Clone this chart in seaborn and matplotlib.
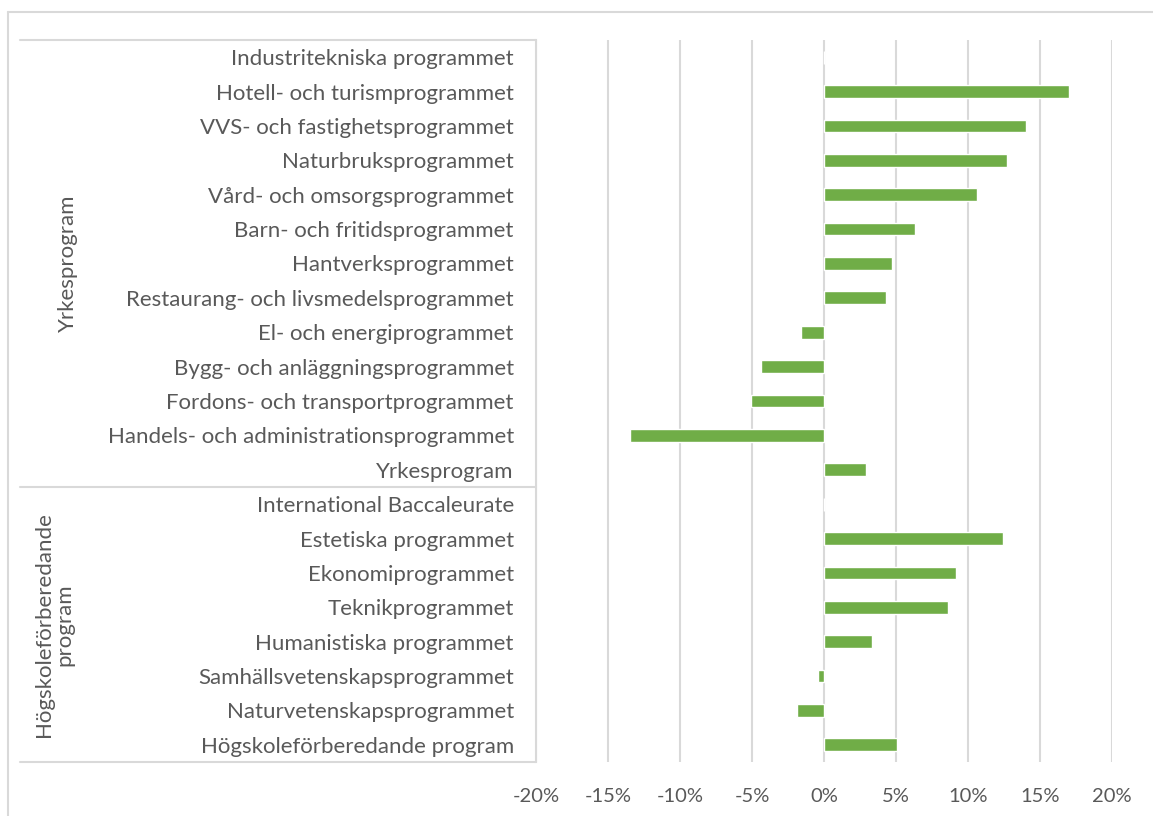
import numpy as np
import pandas as pd
import seaborn as sns
import matplotlib.pyplot as plt
from matplotlib.lines import Line2D
from matplotlib.ticker import FuncFormatter
import matplotlib.transforms as mtransforms

programs = [
    "Industritekniska programmet",
    "Hotell- och turismprogrammet",
    "VVS- och fastighetsprogrammet",
    "Naturbruksprogrammet",
    "Vård- och omsorgsprogrammet",
    "Barn- och fritidsprogrammet",
    "Hantverksprogrammet",
    "Restaurang- och livsmedelsprogrammet",
    "El- och energiprogrammet",
    "Bygg- och anläggningsprogrammet",
    "Fordons- och transportprogrammet",
    "Handels- och administrationsprogrammet",
    "Yrkesprogram",
    "International Baccaleurate",
    "Estetiska programmet",
    "Ekonomiprogrammet",
    "Teknikprogrammet",
    "Humanistiska programmet",
    "Samhällsvetenskapsprogrammet",
    "Naturvetenskapsprogrammet",
    "Högskoleförberedande program",
]
change = [0.0, 0.170, 0.140, 0.127, 0.106, 0.063, 0.047, 0.043, -0.016, -0.044,
          -0.051, -0.135, 0.029, 0.0, 0.124, 0.092, 0.086, 0.033, -0.004, -0.019, 0.051]
groups = ["Yrkesprogram", "Högskoleförberedande\nprogram"]
group_sizes = [13, 8]
xticks = [-0.20, -0.15, -0.10, -0.05, 0.0, 0.05, 0.10, 0.15, 0.20]

df = pd.DataFrame({"program": programs, "change": change})

sns.set_theme(style="white")
plt.rcParams["font.family"] = ["Lato", "DejaVu Sans"]
text_col = "#595959"
line_col = "#D9D9D9"

fig = plt.figure(figsize=(11.53, 8.16), dpi=100)
ax = fig.add_axes([536 / 1153, 1 - 762 / 816, 576 / 1153, 722 / 816])

sns.barplot(data=df, x="change", y="program", color="#70AD47", width=0.37,
            saturation=1, orient="h", ax=ax)

ax.set_xlim(-0.20, 0.20)
ax.set_ylim(len(programs) - 0.5, -0.5)
ax.set_xticks(xticks)
ax.xaxis.set_major_formatter(FuncFormatter(lambda v, p: f"{v * 100:.0f}%"))
ax.grid(axis="x", color=line_col, linewidth=1.5)
ax.set_axisbelow(True)
ax.set_xlabel("")
ax.set_ylabel("")
for s in ["top", "right", "bottom"]:
    ax.spines[s].set_visible(False)
ax.spines["left"].set_color(line_col)
ax.spines["left"].set_linewidth(1.5)
ax.tick_params(axis="x", length=0, pad=19, labelsize=14.5, labelcolor=text_col)
ax.tick_params(axis="y", length=0, pad=16, labelsize=16, labelcolor=text_col)

# group separators and labels on the left
trans = mtransforms.blended_transform_factory(ax.transAxes, ax.transData)
x0 = (20 - 536) / 576
bounds = [-0.5]
for n in group_sizes:
    bounds.append(bounds[-1] + n)
for b in bounds:
    ax.add_line(Line2D([x0, 0], [b, b], transform=trans, color=line_col,
                       linewidth=1.5, clip_on=False))
group_x = [(68 - 536) / 576, (54 - 536) / 576]
for g, gx, lo, hi in zip(groups, group_x, bounds[:-1], bounds[1:]):
    ax.text(gx, (lo + hi) / 2, g, transform=trans, rotation=90, ha="center",
            va="center", fontsize=16, color=text_col, linespacing=1.05)

# chart frame
fig.add_artist(Line2D([8 / 1153, 1], [1 - 12 / 816, 1 - 12 / 816], color=line_col, linewidth=1.5))
fig.add_artist(Line2D([8 / 1153, 8 / 1153], [0, 1 - 12 / 816], color=line_col, linewidth=1.5))

fig.savefig("out.png", dpi=100)
